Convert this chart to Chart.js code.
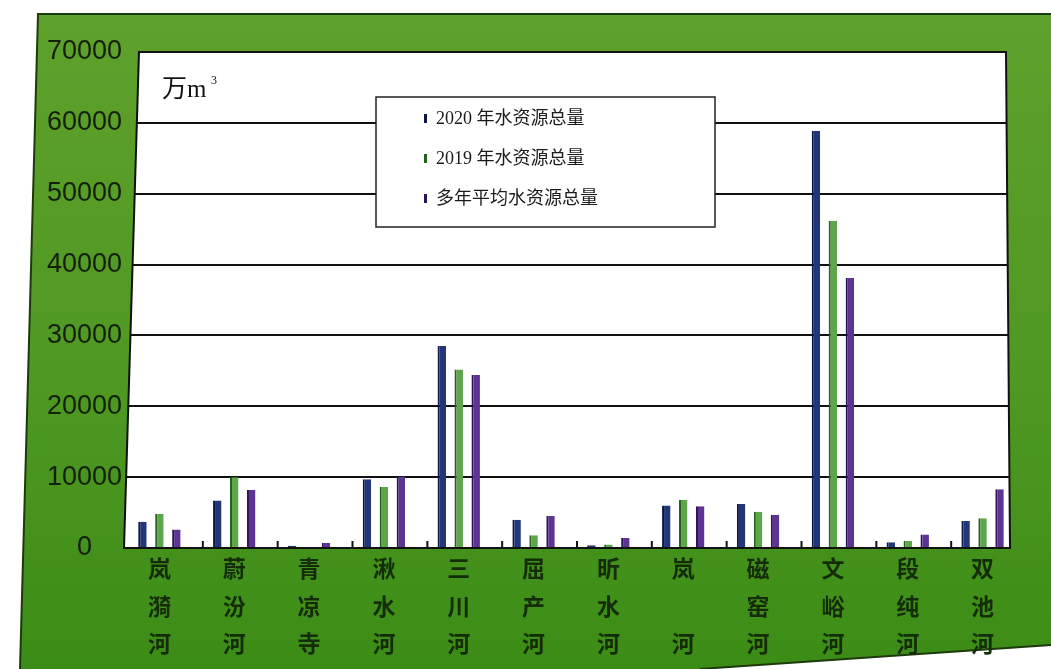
<!DOCTYPE html>
<html>
<head>
<meta charset="utf-8">
<script src="https://cdn.jsdelivr.net/npm/chart.js@4.4.1/dist/chart.umd.min.js"></script>
<style>
  html, body { margin: 0; padding: 0; background: #fff; }
  #wrap { width: 1051px; height: 669px; position: relative; }
</style>
</head>
<body>
<div id="wrap"><canvas id="waterChart" width="1051" height="669"></canvas></div>
<script>
// rivers (x axis), 万m³
const riverNames = ['岚漪河', '蔚汾河', '青凉寺', '湫水河', '三川河', '屈产河', '昕水河', '岚河', '磁窑河', '文峪河', '段纯河', '双池河'];
const water2020 = [3700, 6700, 300, 9700, 28500, 4000, 400, 6000, 6200, 58900, 800, 3800];
const water2019 = [4800, 10000, 150, 8600, 25200, 1800, 500, 6800, 5100, 46200, 1000, 4200];
const waterAvg = [2600, 8200, 700, 10100, 24400, 4500, 1400, 5900, 4700, 38100, 1900, 8300];
const seriesNames = ['2020 年水资源总量', '2019 年水资源总量', '多年平均水资源总量'];
const yTicks = [0, 10000, 20000, 30000, 40000, 50000, 60000, 70000];

// vertical labels, two-char names keep a blank middle line
const labels = riverNames.map(n => {
  const c = n.split('');
  return c.length === 2 ? [c[0], '', c[1]] : c;
});

const ctx = document.getElementById('waterChart');

// white panel is a bit skewed in the photo
function panelPath(c, a) {
  c.beginPath();
  c.moveTo(a.left + 17, a.top);
  c.lineTo(a.right - 14, a.top);
  c.lineTo(a.right - 10, a.bottom);
  c.lineTo(a.left + 2, a.bottom);
  c.closePath();
}

// green card, white panel, grid lines, framed legend
const paperPlugin = {
  id: 'paper',
  beforeDraw(chart) {
    const c = chart.ctx;
    const a = chart.chartArea;
    c.save();
    c.fillStyle = '#fff';
    c.fillRect(0, 0, chart.width, chart.height);
    const g = c.createLinearGradient(0, 0, 0, chart.height);
    g.addColorStop(0, '#5fa12c');
    g.addColorStop(0.6, '#4e9822');
    g.addColorStop(1, '#3b8c16');
    c.fillStyle = g;
    c.beginPath();
    c.moveTo(38, 14);
    c.lineTo(1051, 14);
    c.lineTo(1051, 645);
    c.lineTo(700, 669);
    c.lineTo(20, 669);
    c.closePath();
    c.fill();
    c.strokeStyle = '#1d3a0c';
    c.lineWidth = 2;
    c.beginPath();
    c.moveTo(20, 669);
    c.lineTo(38, 14);
    c.lineTo(1051, 14);
    c.moveTo(1051, 645);
    c.lineTo(700, 669);
    c.stroke();
    c.fillStyle = '#fff';
    panelPath(c, a);
    c.fill();
    c.restore();
  },
  beforeDatasetsDraw(chart) {
    const c = chart.ctx;
    const a = chart.chartArea;
    const y = chart.scales.y;
    const x = chart.scales.x;
    c.save();
    panelPath(c, a);
    c.clip();
    c.strokeStyle = '#111';
    c.lineWidth = 2;
    yTicks.forEach(v => {
      const py = Math.round(y.getPixelForValue(v));
      c.beginPath();
      c.moveTo(a.left, py);
      c.lineTo(a.right, py);
      c.stroke();
    });
    // small marks between rivers
    for (let i = 0; i < riverNames.length - 1; i++) {
      const px = (x.getPixelForValue(i) + x.getPixelForValue(i + 1)) / 2 + 6;
      c.beginPath();
      c.moveTo(px, a.bottom);
      c.lineTo(px, a.bottom - 7);
      c.stroke();
    }
    c.restore();
  },
  afterDatasetsDraw(chart) {
    const c = chart.ctx;
    const a = chart.chartArea;
    c.save();
    c.strokeStyle = '#111';
    c.lineWidth = 2;
    panelPath(c, a);
    c.stroke();

    // unit
    c.fillStyle = '#111';
    c.font = '25px "Liberation Serif", "Noto Sans CJK SC", serif';
    c.textBaseline = 'alphabetic';
    c.fillText('万m', 162, 97);
    c.font = '12px "Liberation Serif", serif';
    c.fillText('3', 211, 84);

    // legend box
    const bx = 376, by = 97, bw = 339, bh = 130;
    c.fillStyle = '#fff';
    c.fillRect(bx, by, bw, bh);
    c.strokeStyle = '#222';
    c.lineWidth = 1.5;
    c.strokeRect(bx, by, bw, bh);
    c.font = '18px "Liberation Serif", "Noto Sans CJK SC", serif';
    c.textBaseline = 'middle';
    chart.data.datasets.forEach((ds, i) => {
      const ly = by + 22 + i * 40;
      c.fillStyle = ds.borderColor;
      c.fillRect(bx + 48, ly - 5, 3, 9);
      c.fillStyle = '#1a1a1a';
      c.fillText(ds.label, bx + 60, ly);
    });
    c.restore();
  }
};

new Chart(ctx, {
  type: 'bar',
  data: {
    labels: labels,
    datasets: [
      { label: seriesNames[0], data: water2020, backgroundColor: '#24367a', borderColor: '#0f1746', borderWidth: { left: 2 } },
      { label: seriesNames[1], data: water2019, backgroundColor: '#5ea64c', borderColor: '#24621c', borderWidth: { left: 2 } },
      { label: seriesNames[2], data: waterAvg, backgroundColor: '#5d3394', borderColor: '#2c1256', borderWidth: { left: 2 } }
    ]
  },
  options: {
    responsive: false,
    animation: false,
    layout: { padding: { left: 32, top: 52, right: 31, bottom: 4 } },
    categoryPercentage: 0.68,
    barPercentage: 0.5,
    plugins: {
      legend: { display: false },
      tooltip: { enabled: false }
    },
    scales: {
      x: {
        grid: { display: false },
        border: { display: false },
        ticks: {
          color: '#142c08',
          font: { family: '"Noto Sans CJK SC", sans-serif', size: 23, weight: 'bold', lineHeight: 1.62 },
          padding: -6,
          maxRotation: 0,
          autoSkip: false
        },
        afterFit(scale) { scale.height = 117; }
      },
      y: {
        min: 0,
        max: 70000,
        afterBuildTicks(scale) { scale.ticks = yTicks.map(v => ({ value: v })); },
        grid: { display: false },
        border: { display: false },
        ticks: {
          color: '#14200c',
          font: { family: '"Liberation Sans", Arial, sans-serif', size: 27 },
          padding: -8,
          crossAlign: 'center',
          callback: v => String(v)
        },
        afterFit(scale) { scale.width = 90; }
      }
    }
  },
  plugins: [paperPlugin]
});
</script>
</body>
</html>
